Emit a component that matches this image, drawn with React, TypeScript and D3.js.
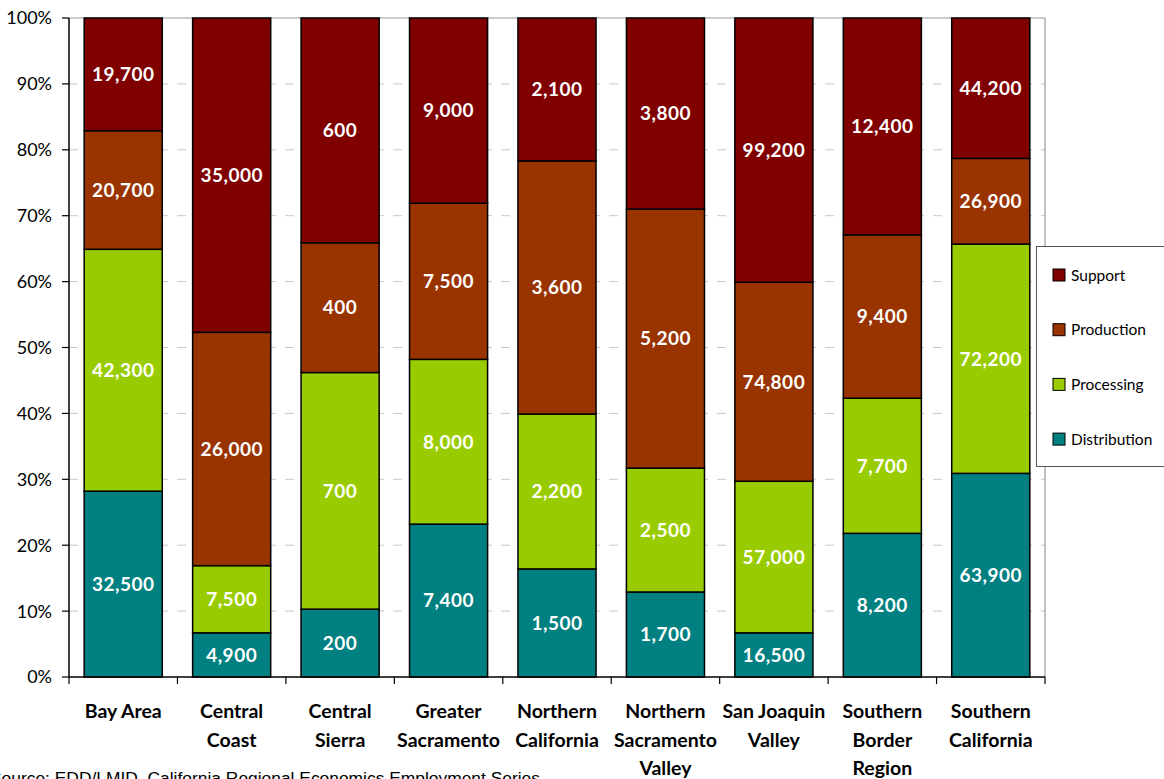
import React from "react";
import * as d3 from "d3";

const categories = [
  "Bay Area",
  "Central\nCoast",
  "Central\nSierra",
  "Greater\nSacramento",
  "Northern\nCalifornia",
  "Northern\nSacramento\nValley",
  "San Joaquin\nValley",
  "Southern\nBorder\nRegion",
  "Southern\nCalifornia",
];

// share of jobs (%)
const distribution = [28.2, 6.7, 10.3, 23.2, 16.4, 12.9, 6.7, 21.8, 30.9];
const processing = [36.7, 10.2, 35.9, 25.0, 23.5, 18.8, 23.0, 20.5, 34.8];
const production = [18.0, 35.4, 19.7, 23.7, 38.4, 39.3, 30.2, 24.8, 13.0];
const support = [17.1, 47.7, 34.1, 28.1, 21.7, 29.0, 40.1, 32.9, 21.3];

// job counts shown as labels
const distributionJobs = [32500, 4900, 200, 7400, 1500, 1700, 16500, 8200, 63900];
const processingJobs = [42300, 7500, 700, 8000, 2200, 2500, 57000, 7700, 72200];
const productionJobs = [20700, 26000, 400, 7500, 3600, 5200, 74800, 9400, 26900];
const supportJobs = [19700, 35000, 600, 9000, 2100, 3800, 99200, 12400, 44200];

const seriesNames = ["Distribution", "Processing", "Production", "Support"];
const seriesColors = ["#008080", "#99CC00", "#993300", "#800000"];
const yTicks = [0, 10, 20, 30, 40, 50, 60, 70, 80, 90, 100];
const sourceText = "Source: EDD/LMID, California Regional Economics Employment Series";

const W = 1164;
const H = 779;
const left = 69;
const right = 1045;
const top = 18;
const bottom = 677;
const FONT = "Lato, 'Gill Sans', 'Noto Sans', sans-serif";

export default function App() {
  const shares = [distribution, processing, production, support];
  const jobs = [distributionJobs, processingJobs, productionJobs, supportJobs];
  const rows = categories.map((c, i) => {
    const r: any = { cat: c };
    seriesNames.forEach((s, k) => (r[s] = shares[k][i]));
    return r;
  });
  const stacked = d3.stack().keys(seriesNames)(rows as any);

  const x = d3
    .scaleBand()
    .domain(categories)
    .range([left, right])
    .paddingInner(0.28)
    .paddingOuter(0.14);
  const y = d3.scaleLinear().domain([0, 100]).range([bottom, top]);
  const fmt = d3.format(",");
  const step = x.step();
  const boundaries = d3.range(categories.length + 1).map((i) => left + i * step);

  return (
    <div style={{ position: "fixed", left: 0, top: 0, width: W, height: H, overflow: "hidden", background: "#fff" }}>
      <svg width={W} height={H} style={{ display: "block" }}>
        {/* gridlines */}
        {yTicks.slice(1, -1).map((t) => (
          <line key={t} x1={left} x2={right} y1={y(t)} y2={y(t)} stroke="#c8c8c8" strokeWidth={1} strokeDasharray="9,9" />
        ))}
        {/* plot border top/right */}
        <line x1={left} x2={right} y1={y(100)} y2={y(100)} stroke="#999" strokeWidth={1.2} />
        <line x1={right} x2={right} y1={y(100)} y2={y(0)} stroke="#999" strokeWidth={1.2} />

        {/* bars */}
        {stacked.map((layer, k) => (
          <g key={layer.key}>
            {layer.map((d: any, i: number) => (
              <rect
                key={i}
                x={x(categories[i])}
                width={x.bandwidth()}
                y={y(d[1])}
                height={y(d[0]) - y(d[1])}
                fill={seriesColors[k]}
                stroke="#000"
                strokeWidth={1.5}
              />
            ))}
          </g>
        ))}
        {/* labels */}
        {stacked.map((layer, k) => (
          <g key={"l" + layer.key}>
            {layer.map((d: any, i: number) => (
              <text
                key={i}
                x={(x(categories[i]) as number) + x.bandwidth() / 2}
                y={(y(d[0]) + y(d[1])) / 2}
                dy="0.36em"
                textAnchor="middle"
                fill="#fff"
                fontFamily={FONT}
                fontWeight={700}
                fontSize={19}
                letterSpacing={0.5}
              >
                {fmt(jobs[k][i])}
              </text>
            ))}
          </g>
        ))}

        {/* y axis */}
        <line x1={left} x2={left} y1={top} y2={bottom} stroke="#000" strokeWidth={1.5} />
        {yTicks.map((t) => (
          <g key={t}>
            <line x1={left - 7} x2={left} y1={y(t)} y2={y(t)} stroke="#000" strokeWidth={1.2} />
            <text x={52} y={y(t)} dy="0.36em" textAnchor="end" fontFamily={FONT} fontSize={18} fill="#000">
              {t + "%"}
            </text>
          </g>
        ))}
        {/* x axis */}
        <line x1={left} x2={right} y1={bottom} y2={bottom} stroke="#000" strokeWidth={1.5} />
        {boundaries.map((bx, i) => (
          <line key={i} x1={bx} x2={bx} y1={bottom} y2={bottom + 7} stroke="#000" strokeWidth={1.2} />
        ))}
        {categories.map((c) => (
          <text
            key={c}
            x={(x(c) as number) + x.bandwidth() / 2}
            y={711}
            textAnchor="middle"
            fontFamily={FONT}
            fontWeight={700}
            fontSize={19.5}
            fill="#000"
          >
            {c.split("\n").map((ln, j) => (
              <tspan key={j} x={(x(c) as number) + x.bandwidth() / 2} y={711 + j * 28.7} dy="0.36em">
                {ln}
              </tspan>
            ))}
          </text>
        ))}

        {/* legend */}
        <rect x={1036.5} y={246.5} width={140} height={220} fill="#fff" stroke="#555" strokeWidth={1} />
        {seriesNames
          .slice()
          .reverse()
          .map((s, j) => {
            const k = seriesNames.length - 1 - j;
            const cy = 275 + j * 54.7;
            return (
              <g key={s}>
                <rect x={1053} y={cy - 6} width={12} height={12} fill={seriesColors[k]} stroke="#000" strokeWidth={1} />
                <text x={1071} y={cy} dy="0.36em" fontFamily={FONT} fontSize={15.5} fill="#000">
                  {s}
                </text>
              </g>
            );
          })}

        {/* source */}
        <text x={-10} y={784} fontFamily="'Liberation Sans', Arial, sans-serif" fontSize={17.4} fill="#000">
          {sourceText}
        </text>
      </svg>
    </div>
  );
}
